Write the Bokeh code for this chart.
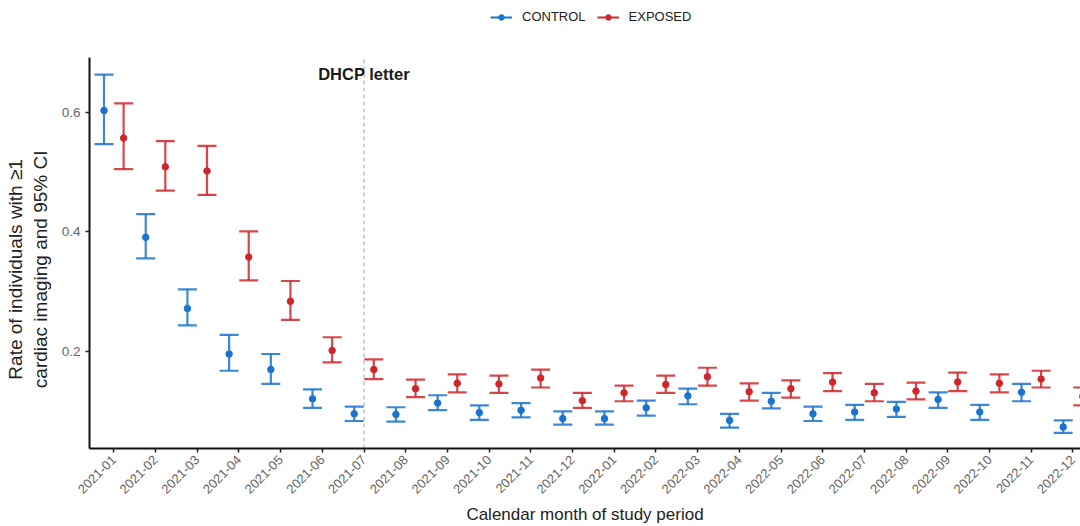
import numpy as np
from bokeh.plotting import figure
from bokeh.models import (ColumnDataSource, Whisker, TeeHead, Label, Legend, LegendItem,
                          FixedTicker, Range1d)
from bokeh.embed import file_html
from bokeh.resources import INLINE

months = ["2021-01", "2021-02", "2021-03", "2021-04", "2021-05", "2021-06",
          "2021-07", "2021-08", "2021-09", "2021-10", "2021-11", "2021-12",
          "2022-01", "2022-02", "2022-03", "2022-04", "2022-05", "2022-06",
          "2022-07", "2022-08", "2022-09", "2022-10", "2022-11", "2022-12"]

control_rate = [0.603, 0.391, 0.272, 0.196, 0.170, 0.121, 0.096, 0.095, 0.114, 0.098, 0.102, 0.088,
                0.088, 0.106, 0.126, 0.085, 0.117, 0.096, 0.099, 0.104, 0.120, 0.099, 0.132, 0.074]
control_lo = [0.547, 0.356, 0.244, 0.168, 0.146, 0.106, 0.084, 0.083, 0.102, 0.086, 0.090, 0.078,
              0.078, 0.093, 0.112, 0.073, 0.105, 0.084, 0.086, 0.091, 0.106, 0.086, 0.117, 0.064]
control_hi = [0.663, 0.430, 0.304, 0.228, 0.196, 0.137, 0.108, 0.107, 0.127, 0.110, 0.114, 0.100,
              0.100, 0.118, 0.138, 0.096, 0.131, 0.108, 0.111, 0.116, 0.132, 0.111, 0.146, 0.085]

exposed_rate = [0.557, 0.509, 0.502, 0.358, 0.284, 0.202, 0.170, 0.138, 0.147, 0.146, 0.156, 0.118,
                0.131, 0.145, 0.158, 0.133, 0.138, 0.149, 0.131, 0.134, 0.149, 0.147, 0.154, 0.125]
exposed_lo = [0.505, 0.469, 0.462, 0.319, 0.253, 0.182, 0.154, 0.124, 0.132, 0.131, 0.140, 0.106,
              0.117, 0.131, 0.143, 0.118, 0.123, 0.134, 0.117, 0.120, 0.134, 0.132, 0.140, 0.110]
exposed_hi = [0.615, 0.552, 0.544, 0.401, 0.318, 0.224, 0.187, 0.153, 0.162, 0.160, 0.170, 0.131,
              0.143, 0.160, 0.173, 0.147, 0.152, 0.164, 0.146, 0.148, 0.165, 0.162, 0.168, 0.140]

y_ticks = [0.2, 0.4, 0.6]
groups = ["CONTROL", "EXPOSED"]
colors = ["#1a73cf", "#d0262b"]
letter_month = "2021-07"
dodge = 0.235
FONT = "Liberation Sans"

Y_MIN, Y_MAX = 0.038, 0.692   # panel extent
Y_TOP = 0.787                 # extra room above the panel for the legend

x_pos = np.arange(1, len(months) + 1)

p = figure(width=1080, height=526, output_backend="svg", toolbar_location=None,
           x_range=Range1d(0.417, 24.18), y_range=Range1d(Y_MIN, Y_TOP),
           min_border_left=89, min_border_right=0, min_border_top=0, min_border_bottom=76)
p.outline_line_color = None
p.xgrid.visible = False
p.ygrid.visible = False
p.background_fill_color = "white"

# DHCP letter reference line
x_letter = months.index(letter_month) + 1
p.segment(x0=[x_letter], y0=[Y_MIN], x1=[x_letter], y1=[Y_MAX],
          line_color="#b0b0b0", line_dash="4 3", line_width=1.2)

series = [(control_rate, control_lo, control_hi, -dodge), (exposed_rate, exposed_lo, exposed_hi, dodge)]
legend_items = []
for (rate, lo, hi, off), name, col in zip(series, groups, colors):
    src = ColumnDataSource(dict(x=x_pos + off, y=rate, lo=lo, hi=hi))
    w = Whisker(base="x", lower="lo", upper="hi", dimension="height", source=src,
                line_color=col, line_width=2.2, line_alpha=0.85,
                upper_head=TeeHead(size=19, line_color=col, line_width=2.2, line_alpha=0.85),
                lower_head=TeeHead(size=19, line_color=col, line_width=2.2, line_alpha=0.85))
    p.add_layout(w)
    sr = p.scatter("x", "y", source=src, size=6.5, color=col)
    lr = p.line(x=[np.nan], y=[np.nan], line_color=col, line_width=2)
    legend_items.append(LegendItem(label=name, renderers=[lr, sr]))

legend = Legend(items=legend_items, orientation="horizontal", location=(401, 424),
                label_text_font=FONT, label_text_font_size="13px", label_text_color="#222222",
                glyph_width=22, glyph_height=14, label_standoff=10, spacing=11, padding=0, margin=0,
                border_line_color=None, background_fill_alpha=0)
p.add_layout(legend)

p.add_layout(Label(x=x_letter, y=0.664, text="DHCP letter", text_align="center", text_baseline="middle",
                   text_font=FONT, text_font_size="16.5px", text_font_style="bold", text_color="#1a1a1a"))

p.xaxis.ticker = FixedTicker(ticks=list(x_pos))
p.xaxis.major_label_overrides = {int(i): m for i, m in zip(x_pos, months)}
p.xaxis.major_label_orientation = np.pi / 4
p.yaxis.ticker = FixedTicker(ticks=y_ticks)
p.yaxis.major_label_overrides = {t: f"{t:.1f}" for t in y_ticks}
p.yaxis.bounds = (Y_MIN, Y_MAX)

for ax in (p.xaxis, p.yaxis):
    ax.axis_line_color = "#111111"
    ax.axis_line_width = 2
    ax.major_tick_line_color = "#222222"
    ax.major_tick_line_width = 1.5
    ax.major_tick_in = 0
    ax.major_tick_out = 4
    ax.minor_tick_line_color = None
    ax.major_label_text_font = FONT
    ax.major_label_text_color = "#666666"
    ax.axis_label_text_font = FONT
    ax.axis_label_text_font_style = "normal"
    ax.axis_label_text_color = "#222222"

p.xaxis.major_label_text_font_size = "13px"
p.xaxis.major_label_standoff = 5
p.yaxis.major_label_text_font_size = "13.5px"
p.xaxis.axis_label = "Calendar month of study period"
# trailing no-break spaces shift the centred label down to the middle of the panel
pad = "\u00a0" * 17
p.yaxis.axis_label = "Rate of individuals with \u22651" + pad + "\ncardiac imaging and 95% CI" + pad
p.xaxis.axis_label_text_font_size = "17px"
p.yaxis.axis_label_text_font_size = "19px"
p.xaxis.axis_label_standoff = 4
p.yaxis.axis_label_standoff = 8

open("out.html", "w").write(file_html(p, INLINE))
